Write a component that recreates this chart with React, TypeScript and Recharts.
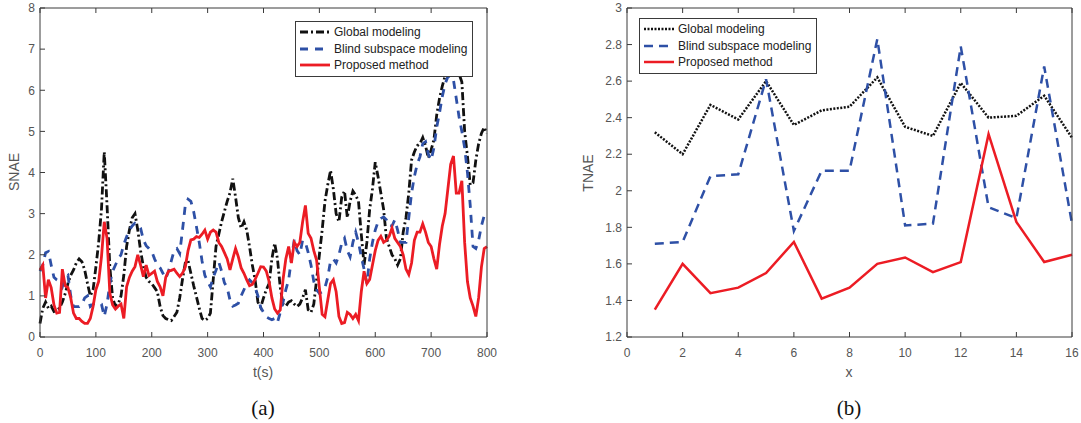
import { LineChart, Line, XAxis, YAxis } from "recharts";

// (a) time series, sampled every 5 s
const timeA = Array.from({ length: 161 }, (_, i) => i * 5);

const globalA = [
  0.33, 0.7, 0.85, 0.7, 0.75, 0.62, 0.65, 0.7, 0.85, 1.05, 1.3, 1.5, 1.63, 1.8, 1.9, 1.83, 1.63, 1.3, 1.0, 1.15,
  1.7, 2.3, 3.1, 4.5, 3.2, 1.7, 0.95, 0.75, 0.8, 1.0, 1.5, 2.2, 2.6, 2.9, 3.0, 2.6, 2.1, 1.71, 1.45, 1.35,
  1.3, 1.2, 1.1, 0.74, 0.52, 0.45, 0.42, 0.4, 0.5, 0.6, 0.95, 1.4, 1.8, 1.85, 1.55, 1.25, 0.98, 0.7, 0.45, 0.4,
  0.45, 0.58, 1.39, 2.2, 2.5, 2.8, 3.05, 3.3, 3.5, 3.85, 3.4, 2.9, 2.65, 2.8, 2.6, 2.2, 1.75, 1.39, 0.85, 0.72,
  0.95, 1.15, 1.3, 1.9, 2.28, 1.9, 1.2, 0.8, 0.75, 0.85, 0.88, 0.8, 0.74, 0.8, 0.95, 1.15, 0.66, 0.6, 0.8, 1.39,
  2.0, 2.6, 3.3, 3.7, 4.05, 3.6, 3.0, 2.8, 3.4, 3.55, 2.9, 3.3, 3.55, 3.45, 3.3, 2.5, 1.75, 2.3, 3.1, 3.6,
  4.25, 3.9, 3.5, 3.1, 2.4, 2.2, 2.0, 1.9, 1.75, 1.9, 2.55, 2.9, 3.5, 4.3, 4.5, 4.65, 4.7, 4.85, 4.65, 4.35,
  4.55, 4.8, 5.4, 5.8, 6.1, 6.35, 6.5, 6.7, 6.6, 6.5, 6.4, 6.2, 5.0, 4.4, 3.7, 3.75, 4.3, 4.7, 4.95, 5.1,
  4.95,
];

const blindA = [
  1.6, 1.75, 2.05, 2.08, 1.75, 1.45, 1.39, 1.35, 1.22, 1.45, 1.5, 1.0, 0.74, 0.74, 0.74, 0.8, 0.95, 1.0, 0.74, 0.8,
  0.82, 0.82, 0.8, 0.5, 0.8, 1.3, 1.6, 1.75, 1.9, 2.0, 2.25, 2.44, 2.6, 2.7, 2.77, 2.75, 2.65, 2.36, 2.22, 2.15,
  2.08, 1.9, 1.75, 1.68, 1.55, 1.42, 1.6, 1.85, 2.1, 2.15, 2.03, 2.6, 3.2, 3.35, 3.3, 3.05, 2.68, 2.3, 1.85, 1.5,
  1.35, 1.22, 1.45, 1.62, 1.82, 1.6, 1.32, 1.2, 0.9, 0.75, 0.78, 0.82, 1.0, 1.15, 1.3, 1.39, 1.32, 1.2, 1.0, 0.72,
  0.6, 0.49, 0.45, 0.42, 0.45, 0.35, 0.6, 0.85, 1.15, 1.39, 1.9, 2.36, 2.1, 2.0, 2.35, 2.3, 2.05, 1.75, 1.35, 1.15,
  1.06, 1.1, 1.2, 1.45, 1.85, 1.9, 1.8, 2.0, 2.28, 2.4, 2.1, 1.95, 2.3, 2.55, 2.3, 1.95, 1.65, 1.3, 1.9, 2.3,
  2.6, 2.8, 2.88, 2.92, 2.85, 2.7, 2.7, 2.85, 2.6, 2.3, 2.3, 2.3, 2.9, 3.5, 3.9, 4.2, 4.38, 4.7, 4.75, 4.45,
  4.3, 4.6, 5.1, 5.45, 5.85, 6.15, 6.33, 6.35, 6.25, 5.8, 5.35, 5.0, 4.6, 4.0, 3.2, 2.2, 2.15, 2.35, 2.7, 2.95,
  3.05,
];

const proposedA = [
  1.63, 1.75, 0.95, 1.39, 1.2, 0.78, 0.58, 0.6, 1.65, 1.25, 1.2, 0.95, 0.58, 0.45, 0.45, 0.38, 0.33, 0.33, 0.45, 0.74,
  1.15, 1.35, 1.95, 2.8, 2.4, 1.06, 0.78, 0.68, 0.75, 0.8, 0.45, 1.22, 1.45, 1.6, 1.71, 2.0, 1.75, 1.47, 1.75, 1.5,
  1.55, 1.6, 1.35, 1.22, 1.0, 1.45, 1.6, 1.62, 1.65, 1.55, 1.47, 1.55, 1.7, 2.1, 2.36, 2.38, 2.44, 2.42, 2.5, 2.6,
  2.38, 2.55, 2.6, 2.55, 2.3, 2.2, 2.05, 1.9, 1.63, 1.9, 2.15, 1.95, 1.68, 1.55, 1.39, 1.25, 1.28, 1.4, 1.55, 1.71,
  1.7, 1.6, 1.35, 0.95, 0.68, 0.58, 0.66, 1.4, 1.9, 2.2, 1.8, 2.3, 2.2, 2.3, 2.8, 3.2, 2.52, 2.4, 2.1, 1.87,
  1.2, 0.55, 0.49, 0.9, 1.3, 1.39, 1.1, 0.5, 0.33, 0.35, 0.6, 0.55, 0.45, 0.55, 0.4, 1.1, 1.6, 1.3, 1.4, 1.75,
  2.1, 2.35, 2.45, 2.3, 2.35, 2.45, 2.65, 2.4, 2.3, 2.2, 2.0, 1.65, 1.52, 1.8, 2.35, 2.55, 2.55, 2.75, 2.55, 2.3,
  2.2, 1.9, 1.65, 2.25, 2.7, 3.0, 3.6, 4.2, 4.4, 3.5, 3.5, 3.8, 2.3, 1.35, 0.95, 0.75, 0.5, 0.95, 1.7, 2.15,
  2.2,
];

const ticksXA = [0, 100, 200, 300, 400, 500, 600, 700, 800];
const ticksYA = [0, 1, 2, 3, 4, 5, 6, 7, 8];

// (b) per-index values
const indexB = [1, 2, 3, 4, 5, 6, 7, 8, 9, 10, 11, 12, 13, 14, 15, 16];
const globalB = [2.32, 2.2, 2.47, 2.39, 2.6, 2.36, 2.44, 2.46, 2.62, 2.35, 2.3, 2.59, 2.4, 2.41, 2.52, 2.29];
const blindB = [1.71, 1.72, 2.08, 2.09, 2.61, 1.78, 2.11, 2.11, 2.83, 1.81, 1.82, 2.79, 1.91, 1.85, 2.68, 1.82];
const proposedB = [1.35, 1.6, 1.44, 1.47, 1.55, 1.72, 1.41, 1.47, 1.6, 1.635, 1.555, 1.61, 2.31, 1.83, 1.61, 1.65];

const ticksXB = [0, 2, 4, 6, 8, 10, 12, 14, 16];
const ticksYB = [1.2, 1.4, 1.6, 1.8, 2, 2.2, 2.4, 2.6, 2.8, 3];

const seriesNames = ["Global modeling", "Blind subspace modeling", "Proposed method"];

const dataA = timeA.map((t, i) => ({ t, g: globalA[i], b: blindA[i], p: proposedA[i] }));
const dataB = indexB.map((x, i) => ({ x, g: globalB[i], b: blindB[i], p: proposedB[i] }));

const AXIS = "#3a3a3a";
const TEXT = "#555";
const BLACK = "#111";
const BLUE = "#2e50a6";
const RED = "#ec1c24";
const FONT = "'Liberation Sans', Arial, sans-serif";

const tickStyle = { fontSize: 12, fill: TEXT, fontFamily: FONT };

type LegendItem = { name: string; color: string; dash?: string; width: number };

const LegendBox = ({ items, left, top }: { items: LegendItem[]; left: number; top: number }) => (
  <div
    style={{
      position: "absolute",
      left,
      top,
      border: `1px solid ${AXIS}`,
      background: "#fff",
      padding: "2px 5px 2px 3px",
      fontFamily: FONT,
      fontSize: 12,
      color: "#222",
      lineHeight: "16.5px",
    }}
  >
    {items.map((it) => (
      <div key={it.name} style={{ display: "flex", alignItems: "center", whiteSpace: "nowrap" }}>
        <svg width={32} height={10} style={{ marginRight: 3 }}>
          <line x1={1} y1={5} x2={31} y2={5} stroke={it.color} strokeWidth={it.width} strokeDasharray={it.dash} />
        </svg>
        <span>{it.name}</span>
      </div>
    ))}
  </div>
);

const legendA: LegendItem[] = [
  { name: seriesNames[0], color: BLACK, dash: "8 3 2 3", width: 2.8 },
  { name: seriesNames[1], color: BLUE, dash: "8 7", width: 2.8 },
  { name: seriesNames[2], color: RED, width: 2.8 },
];
const legendB: LegendItem[] = [
  { name: seriesNames[0], color: BLACK, dash: "2 1.5", width: 2.5 },
  { name: seriesNames[1], color: BLUE, dash: "9 6", width: 2.5 },
  { name: seriesNames[2], color: RED, width: 2.5 },
];

const abs = (left: number, top: number, extra: React.CSSProperties = {}): React.CSSProperties => ({
  position: "absolute",
  left,
  top,
  transform: "translate(-50%, -50%)",
  whiteSpace: "nowrap",
  ...extra,
});

const fmtB = (v: number) => String(Math.round(v * 10) / 10);
const blank = () => "";

export default function App() {
  return (
    <div style={{ position: "absolute", left: 0, top: 0, width: 1081, height: 423, background: "#fff" }}>
      <div style={{ position: "absolute", left: 0, top: 0 }}>
        <LineChart width={500} height={423} data={dataA} margin={{ top: 7, left: 0, right: 12, bottom: 56 }}>
          <XAxis
            dataKey="t"
            type="number"
            domain={[0, 800]}
            ticks={ticksXA}
            interval={0}
            height={30}
            tickSize={-5}
            tickMargin={16}
            tick={tickStyle}
            stroke={AXIS}
          />
          <XAxis
            xAxisId="top"
            dataKey="t"
            type="number"
            orientation="top"
            domain={[0, 800]}
            ticks={ticksXA}
            interval={0}
            height={1}
            tickSize={-5}
            tickFormatter={blank}
            stroke={AXIS}
          />
          <YAxis
            type="number"
            domain={[0, 8]}
            ticks={ticksYA}
            interval={0}
            width={40}
            tickSize={-5}
            tickMargin={10}
            tick={tickStyle}
            stroke={AXIS}
          />
          <YAxis
            yAxisId="right"
            orientation="right"
            type="number"
            domain={[0, 8]}
            ticks={ticksYA}
            interval={0}
            width={1}
            tickSize={-5}
            tickFormatter={blank}
            stroke={AXIS}
          />
          <Line dataKey="g" stroke={BLACK} strokeWidth={2.8} strokeDasharray="8 3 2 3" dot={false} isAnimationActive={false} />
          <Line dataKey="b" stroke={BLUE} strokeWidth={2.8} strokeDasharray="8 7" dot={false} isAnimationActive={false} />
          <Line dataKey="p" stroke={RED} strokeWidth={2.8} dot={false} isAnimationActive={false} />
        </LineChart>
      </div>

      <div style={{ position: "absolute", left: 540, top: 0 }}>
        <LineChart width={541} height={423} data={dataB} margin={{ top: 7, left: 0, right: 8, bottom: 56 }}>
          <XAxis
            dataKey="x"
            type="number"
            domain={[0, 16]}
            ticks={ticksXB}
            interval={0}
            height={30}
            tickSize={-5}
            tickMargin={16}
            tick={tickStyle}
            stroke={AXIS}
          />
          <XAxis
            xAxisId="top"
            dataKey="x"
            type="number"
            orientation="top"
            domain={[0, 16]}
            ticks={ticksXB}
            interval={0}
            height={1}
            tickSize={-5}
            tickFormatter={blank}
            stroke={AXIS}
          />
          <YAxis
            type="number"
            domain={[1.2, 3]}
            ticks={ticksYB}
            interval={0}
            width={87}
            tickSize={-5}
            tickMargin={10}
            tick={tickStyle}
            tickFormatter={fmtB}
            stroke={AXIS}
          />
          <YAxis
            yAxisId="right"
            orientation="right"
            type="number"
            domain={[1.2, 3]}
            ticks={ticksYB}
            interval={0}
            width={1}
            tickSize={-5}
            tickFormatter={blank}
            stroke={AXIS}
          />
          <Line dataKey="g" type="linear" stroke={BLACK} strokeWidth={2.5} strokeDasharray="2 1.5" dot={false} isAnimationActive={false} />
          <Line dataKey="b" type="linear" stroke={BLUE} strokeWidth={2.5} strokeDasharray="9 6" dot={false} isAnimationActive={false} />
          <Line dataKey="p" type="linear" stroke={RED} strokeWidth={2.5} dot={false} isAnimationActive={false} />
        </LineChart>
      </div>

      <LegendBox items={legendA} left={295} top={21} />
      <LegendBox items={legendB} left={639} top={18} />

      <div style={abs(14, 172, { transform: "translate(-50%, -50%) rotate(-90deg)", fontFamily: FONT, fontSize: 14, color: TEXT })}>
        SNAE
      </div>
      <div style={abs(588, 173, { transform: "translate(-50%, -50%) rotate(-90deg)", fontFamily: FONT, fontSize: 14, color: TEXT })}>
        TNAE
      </div>
      <div style={abs(263, 372, { fontFamily: FONT, fontSize: 14, color: TEXT })}>t(s)</div>
      <div style={abs(849, 372, { fontFamily: FONT, fontSize: 14, color: TEXT })}>x</div>
      <div style={abs(263, 408, { fontFamily: "'Liberation Serif', 'Times New Roman', serif", fontSize: 21, color: "#111" })}>(a)</div>
      <div style={abs(849, 408, { fontFamily: "'Liberation Serif', 'Times New Roman', serif", fontSize: 21, color: "#111" })}>(b)</div>
    </div>
  );
}
